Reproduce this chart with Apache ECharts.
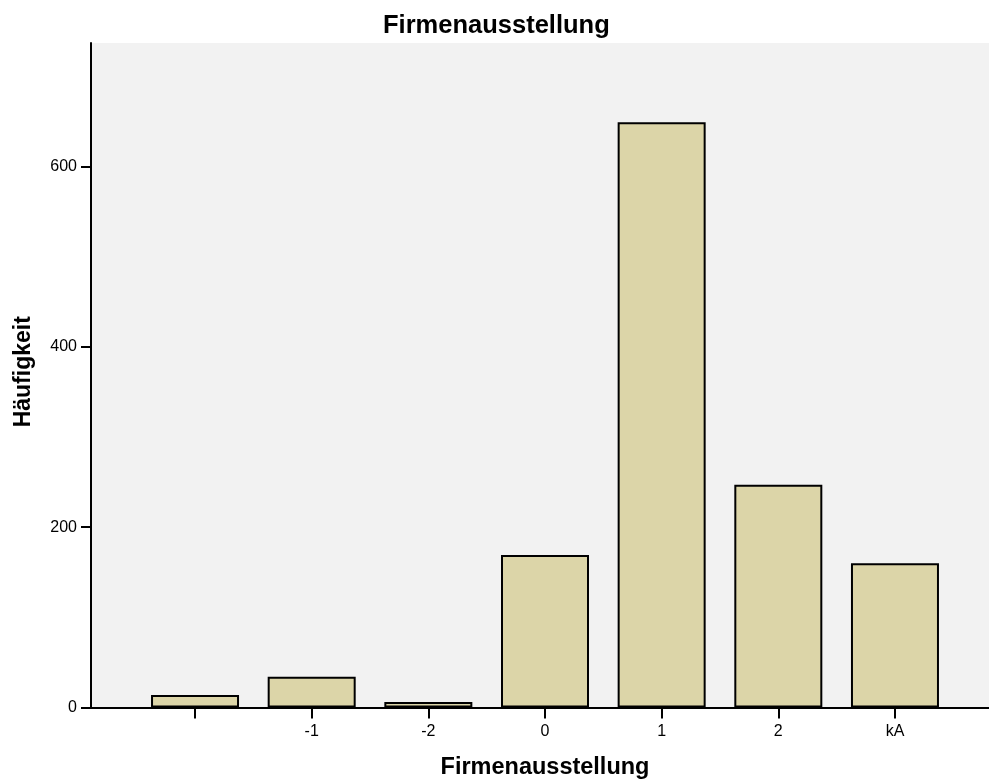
<!DOCTYPE html>
<html>
<head>
<meta charset="utf-8">
<script src="https://cdn.jsdelivr.net/npm/echarts@6/dist/echarts.min.js"></script>
<style>
  html, body { margin: 0; padding: 0; background: #fff; }
  #chart { width: 989px; height: 783px; }
</style>
</head>
<body>
<div id="chart"></div>
<script>
// categories and counts
const categories = ['', '-1', '-2', '0', '1', '2', 'kA'];
const counts = [14, 34, 6, 169, 649, 247, 160];
const yTicks = { min: 0, max: 737, interval: 200 };

const chart = echarts.init(document.getElementById('chart'));
const font = 'Liberation Sans, Arial, sans-serif';

const option = {
  animation: false,
  backgroundColor: '#ffffff',
  title: {
    text: 'Firmenausstellung',
    left: 378,
    top: 8,
    textStyle: { fontFamily: font, fontSize: 25.5, fontWeight: 'bold', color: '#000' }
  },
  grid: [
    // frame / background
    { left: 91, right: 0, top: 43, bottom: 75.5, show: true, backgroundColor: '#f2f2f2', borderWidth: 0, outerBoundsMode: 'none', containLabel: false },
    // bars
    { left: 136.7, right: 35.7, top: 43, bottom: 75.5, outerBoundsMode: 'none', containLabel: false }
  ],
  xAxis: [
    {
      gridIndex: 0, type: 'value', position: 'top', min: 0, max: 1,
      axisLine: { show: true, lineStyle: { color: '#000', width: 2 } },
      axisTick: { show: false }, axisLabel: { show: false }, splitLine: { show: false }
    },
    {
      gridIndex: 0, type: 'value', position: 'bottom', min: 0, max: 1,
      axisLine: { show: true, lineStyle: { color: '#000', width: 2 } },
      axisTick: { show: false }, axisLabel: { show: false }, splitLine: { show: false }
    },
    {
      gridIndex: 1, type: 'category', data: categories,
      name: 'Firmenausstellung', nameLocation: 'middle', nameGap: 48,
      nameTextStyle: { fontFamily: font, fontSize: 23.5, fontWeight: 'bold', color: '#000' },
      axisLine: { show: false },
      axisTick: { show: true, alignWithLabel: true, length: 11, lineStyle: { color: '#000', width: 2 } },
      axisLabel: { fontFamily: font, fontSize: 16, color: '#000', margin: 16 }
    }
  ],
  yAxis: [
    {
      gridIndex: 0, type: 'value', min: yTicks.min, max: yTicks.max, interval: yTicks.interval,
      name: 'Häufigkeit', nameLocation: 'middle', nameGap: 56,
      nameTextStyle: { fontFamily: font, fontSize: 23, fontWeight: 'bold', color: '#000', padding: [0, 0, 0, 7] },
      axisLine: { show: true, lineStyle: { color: '#000', width: 2 } },
      axisTick: { show: true, length: 10, lineStyle: { color: '#000', width: 2 } },
      axisLabel: { fontFamily: font, fontSize: 16, color: '#000', margin: 14, showMaxLabel: false },
      splitLine: { show: false }
    },
    {
      gridIndex: 1, type: 'value', min: yTicks.min, max: yTicks.max, show: false
    }
  ],
  series: [
    {
      type: 'bar',
      xAxisIndex: 2,
      yAxisIndex: 1,
      data: counts,
      barWidth: 88,
      itemStyle: { color: '#dcd5a8', borderColor: '#000', borderWidth: 2 },
      z: 3
    }
  ]
};

chart.setOption(option);
</script>
</body>
</html>
